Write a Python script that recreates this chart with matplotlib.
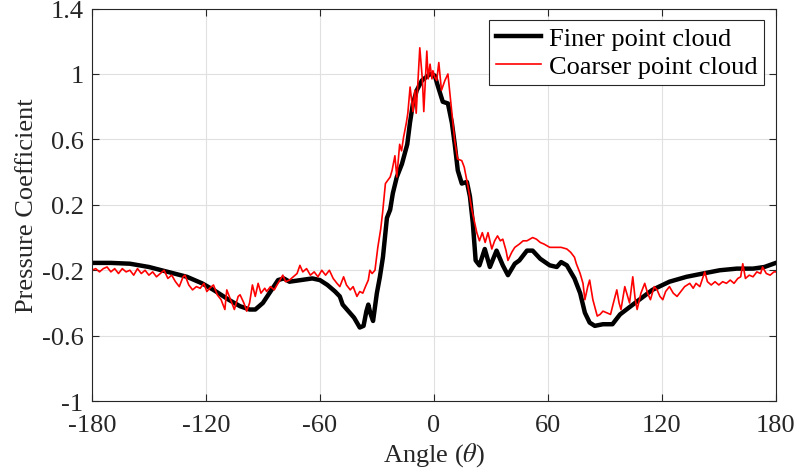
import matplotlib
matplotlib.use("Agg")
import matplotlib.pyplot as plt

# finer point cloud (smooth, thick black)
fine_angle = [-180, -170, -160, -150, -140, -130, -122, -116, -108, -102, -97, -94,
              -90, -86, -82, -79, -76, -70, -64, -60, -56, -52, -49.5, -48, -45,
              -42, -39, -37, -35.5, -34.5, -33.5, -32, -30, -28.4, -26.8, -24.7,
              -23, -21.6, -19.5, -16.8, -14, -12.6, -11, -9, -6.3, -2, 0.5, 2,
              4.7, 7.4, 9.5, 11, 12.6, 14.7, 17.4, 19, 20.5, 22, 24, 26.8, 29.5,
              33, 36.3, 39, 42.6, 45, 49, 52, 56, 61, 64.7, 67, 70, 74, 77, 79.5,
              82, 84.7, 89, 94, 98, 107, 115, 124, 133, 141.6, 150.5, 159.5, 168,
              174, 180]
fine_cp = [-0.155, -0.155, -0.16, -0.18, -0.21, -0.24, -0.28, -0.32, -0.38, -0.42,
           -0.44, -0.44, -0.40, -0.33, -0.26, -0.25, -0.27, -0.26, -0.25, -0.26,
           -0.29, -0.33, -0.36, -0.41, -0.45, -0.49, -0.55, -0.54, -0.45, -0.41,
           -0.46, -0.51, -0.34, -0.24, -0.12, 0.12, 0.17, 0.27, 0.37, 0.45, 0.57,
           0.70, 0.82, 0.90, 0.96, 1.00, 0.99, 0.93, 0.83, 0.82, 0.70, 0.57, 0.41,
           0.33, 0.34, 0.25, 0.09, -0.14, -0.17, -0.07, -0.18, -0.08, -0.17, -0.23,
           -0.16, -0.14, -0.08, -0.08, -0.13, -0.17, -0.18, -0.15, -0.17, -0.25,
           -0.34, -0.46, -0.52, -0.54, -0.53, -0.53, -0.47, -0.39, -0.32, -0.27,
           -0.24, -0.22, -0.20, -0.19, -0.19, -0.18, -0.155]

# coarser point cloud (noisy, thin red)
coarse_angle = [-180, -178, -176, -174, -172, -170, -168, -166, -164, -162, -160,
                -158, -156, -154, -152, -150, -148, -146, -144, -142, -140, -138,
                -136, -134, -132, -131, -129, -127, -125, -123, -121, -119.5, -118,
                -116, -114, -112, -110, -109, -107, -105, -103, -102, -100, -98.5,
                -97, -95.5, -94, -92.5, -91, -89, -88, -86, -84, -82.6, -81, -79.5,
                -78, -76, -74, -72, -70.5, -69, -67, -65, -63, -61, -59, -57, -55,
                -53, -51, -49.5, -47.5, -46, -44, -42.5, -40.5, -39, -37.4, -36,
                -34.5, -33.7, -32.5, -31, -29.5, -28, -27, -25.5, -23, -22, -20.5,
                -19.5, -18, -17, -16, -14.5, -13.7, -12.5, -11, -10, -9.3, -7.4, -6,
                -5.3, -3.7, -3, -2, -1, -0.5, 0.5, 1.5, 2.6, 4, 5.8, 7.4, 9.5, 11,
                12.5, 14.7, 16, 18, 20, 22.6, 24, 25.5, 27, 28.5, 30.5, 32, 33.5, 35,
                36.3, 38, 39, 41, 42.6, 45, 47, 49, 52, 54, 56, 58, 61, 64, 67, 70,
                72, 74, 75, 77, 78.5, 79.5, 81, 82, 83.7, 86, 87.5, 89, 91, 93, 94.5,
                96.3, 97.5, 98.5, 100.5, 102, 103, 104.7, 106, 107, 109, 111, 112.5,
                114, 116, 117.5, 119, 120.5, 122, 124, 126, 128, 130, 132, 134.7,
                136.5, 138, 140, 142.6, 144, 146, 148, 150, 152, 154, 156, 158, 160,
                161.5, 162.6, 164, 166, 168, 170, 172, 173, 175, 177, 179, 180]
coarse_cp = [-0.20, -0.19, -0.21, -0.19, -0.18, -0.21, -0.19, -0.22, -0.19, -0.21,
             -0.20, -0.23, -0.19, -0.22, -0.20, -0.23, -0.21, -0.24, -0.22, -0.20,
             -0.25, -0.23, -0.27, -0.30, -0.24, -0.23, -0.29, -0.32, -0.30, -0.31,
             -0.28, -0.33, -0.31, -0.29, -0.35, -0.38, -0.44, -0.32, -0.38, -0.44,
             -0.36, -0.35, -0.40, -0.45, -0.40, -0.29, -0.36, -0.28, -0.34, -0.31,
             -0.33, -0.30, -0.32, -0.29, -0.26, -0.23, -0.27, -0.26, -0.24, -0.22,
             -0.17, -0.21, -0.19, -0.23, -0.21, -0.24, -0.20, -0.23, -0.20, -0.25,
             -0.28, -0.30, -0.24, -0.29, -0.32, -0.30, -0.36, -0.33, -0.34, -0.30,
             -0.26, -0.20, -0.22, -0.20, -0.06, 0.05, 0.15, 0.33, 0.37, 0.41, 0.50,
             0.37, 0.57, 0.53, 0.61, 0.70, 0.76, 0.92, 0.77, 0.90, 0.76, 1.16, 0.96,
             0.77, 1.14, 0.97, 1.06, 0.97, 1.02, 0.98, 0.96, 1.07, 0.90, 0.96, 1.00,
             0.76, 0.59, 0.48, 0.47, 0.43, 0.31, 0.17, 0.03, -0.02, 0.03, -0.03,
             0.03, -0.07, -0.02, 0.01, -0.02, -0.01, -0.08, -0.14, -0.09, -0.06,
             -0.04, -0.02, -0.02, 0.00, -0.01, -0.03, -0.04, -0.06, -0.06, -0.06,
             -0.07, -0.09, -0.12, -0.16, -0.22, -0.28, -0.38, -0.30, -0.26, -0.38,
             -0.48, -0.47, -0.45, -0.46, -0.47, -0.40, -0.32, -0.40, -0.44, -0.30,
             -0.36, -0.40, -0.24, -0.38, -0.44, -0.34, -0.28, -0.34, -0.38, -0.30,
             -0.32, -0.36, -0.38, -0.33, -0.30, -0.34, -0.36, -0.33, -0.30, -0.28,
             -0.31, -0.28, -0.30, -0.21, -0.27, -0.29, -0.27, -0.29, -0.27, -0.28,
             -0.26, -0.28, -0.25, -0.24, -0.16, -0.25, -0.23, -0.24, -0.21, -0.22,
             -0.18, -0.22, -0.23, -0.21, -0.21]

x_ticks = [-180, -120, -60, 0, 60, 120, 180]
y_ticks = [-1, -0.6, -0.2, 0.2, 0.6, 1, 1.4]

plt.rcParams['font.family'] = ['Liberation Serif', 'DejaVu Serif']
plt.rcParams['mathtext.fontset'] = 'stix'
plt.rcParams['axes.unicode_minus'] = False

fs = 19
fig = plt.figure(figsize=(7.99, 4.77), dpi=100)
ax = fig.add_axes([0.115, 0.157, 0.856, 0.823])

ax.plot(fine_angle, fine_cp, color='black', linewidth=3.2, label='Finer point cloud')
ax.plot(coarse_angle, coarse_cp, color='red', linewidth=1.2, label='Coarser point cloud')

ax.set_xlim(-180, 180)
ax.set_ylim(-1, 1.4)
ax.set_xticks(x_ticks)
ax.set_yticks(y_ticks)
ax.set_xticklabels([str(t) for t in x_ticks])
ax.set_yticklabels(['%g' % t for t in y_ticks])
ax.tick_params(direction='in', top=True, right=True, labelsize=fs, length=5,
               color='#262626', labelcolor='#262626')
ax.tick_params(axis='x', pad=9)
ax.tick_params(axis='y', pad=6)
ax.grid(True, color='#e0e0e0', linewidth=0.8)
for s in ax.spines.values():
    s.set_color('#262626')
    s.set_linewidth(0.8)

ax.set_xlabel(r'Angle ($\theta$)', fontsize=fs, color='#262626', labelpad=3)
ax.set_ylabel('Pressure Coefficient', fontsize=fs, color='#262626', labelpad=3)

leg = ax.legend(loc='upper right', fontsize=fs, fancybox=False, framealpha=1,
                edgecolor='#262626', borderaxespad=0.45, handlelength=1.7,
                handletextpad=0.3, borderpad=0.25, labelspacing=0.15)
leg.get_frame().set_linewidth(0.8)

fig.savefig('out.png', dpi=100)
